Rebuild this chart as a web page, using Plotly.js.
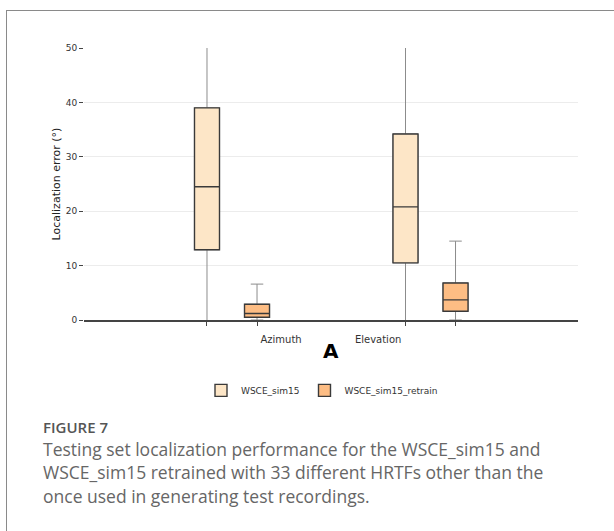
<!DOCTYPE html>
<html>
<head>
<meta charset="utf-8">
<script src="https://cdn.plot.ly/plotly-3.0.1.min.js"></script>
<style>
  html, body { margin: 0; padding: 0; background: #fff; }
  #wrap { position: relative; width: 614px; height: 531px; overflow: hidden; }
  #card { position: absolute; left: 6px; top: 10px; width: 700px; height: 600px;
          border: 1.5px solid #8a8a8a; box-sizing: border-box; }
  #chart { position: absolute; left: 0; top: 0; width: 614px; height: 531px; }
</style>
</head>
<body>
<div id="wrap">
  <div id="card"></div>
  <div id="chart"></div>
</div>
<script>
// ---- data ----
const categories = ["Azimuth", "Elevation"];
const seriesNames = ["WSCE_sim15", "WSCE_sim15_retrain"];

// WSCE_sim15
const sim15_lower  = [0, 0];
const sim15_q1     = [12.9, 10.5];
const sim15_median = [24.5, 20.8];
const sim15_q3     = [39.0, 34.2];
const sim15_upper  = [50, 50];

// WSCE_sim15_retrain
const retrain_lower  = [0, 0];
const retrain_q1     = [0.5, 1.6];
const retrain_median = [1.2, 3.7];
const retrain_q3     = [2.9, 6.8];
const retrain_upper  = [6.6, 14.5];

const yTicks = [0, 10, 20, 30, 40, 50];

const figureLabel = "FIGURE 7";
const captionLines = [
  "Testing set localization performance for the WSCE_sim15 and",
  "WSCE_sim15 retrained with 33 different HRTFs other than the",
  "once used in generating test recordings."
];

// ---- styling ----
const colSim = "#fde6c7";
const colRet = "#fdbd84";
const boxLine = "#3a3a3a";
const whiskLine = "#8c8c8c";
const xIdx = categories.map((c, i) => i);

function whiskerTrace(name, lo, q1, med, q3, hi, fill, grp, ww) {
  return {
    type: "box", name: name, x: xIdx, lowerfence: lo, q1: q1, median: med, q3: q3, upperfence: hi,
    offsetgroup: grp, alignmentgroup: "all", showlegend: false, hoverinfo: "skip",
    fillcolor: fill, line: { color: whiskLine, width: 1 }, whiskerwidth: ww, boxpoints: false
  };
}
function boxTrace(name, q1, med, q3, fill, grp) {
  return {
    type: "box", name: name, x: xIdx, lowerfence: q1, q1: q1, median: med, q3: q3, upperfence: q3,
    offsetgroup: grp, alignmentgroup: "all", showlegend: true,
    fillcolor: fill, line: { color: boxLine, width: 1.4 }, whiskerwidth: 0, boxpoints: false
  };
}

const data = [
  whiskerTrace(seriesNames[0], sim15_lower, sim15_q1, sim15_median, sim15_q3, sim15_upper, colSim, "a", 0),
  whiskerTrace(seriesNames[1], retrain_lower, retrain_q1, retrain_median, retrain_q3, retrain_upper, colRet, "b", 0.5),
  boxTrace(seriesNames[0], sim15_q1, sim15_median, sim15_q3, colSim, "a"),
  boxTrace(seriesNames[1], retrain_q1, retrain_median, retrain_q3, colRet, "b")
];

const boxOff = 0.126;
const tickFont = { family: "DejaVu Sans", size: 9, color: "#333" };

// helpers for pixel -> paper conversion (plot area: x 84..578, y 48..320.5)
const px = v => (v - 84) / 494;
const py = v => (320.5 - v) / 272.5;

const capFont = { family: "Open Sans", size: 17.5, color: "#666" };
const annotations = [
  { text: "<b>A</b>", xref: "paper", yref: "paper", x: px(331), y: py(352),
    xanchor: "center", yanchor: "middle", showarrow: false,
    font: { family: "DejaVu Sans", size: 20, color: "#000" } },
  { text: figureLabel, xref: "paper", yref: "paper", x: px(41), y: py(427.5),
    xanchor: "left", yanchor: "middle", showarrow: false,
    font: { family: "Open Sans", size: 15, color: "#555", weight: 600 } }
];
captionLines.forEach((t, i) => {
  annotations.push({ text: t, xref: "paper", yref: "paper", x: px(41), y: py(450 + i * 23.2),
    xanchor: "left", yanchor: "middle", align: "left", showarrow: false, font: capFont });
});

const layout = {
  width: 614, height: 531,
  margin: { l: 84, r: 36, t: 48, b: 210.5 },
  paper_bgcolor: "rgba(0,0,0,0)",
  plot_bgcolor: "rgba(0,0,0,0)",
  boxmode: "group", boxgap: 0.496, boxgroupgap: 0.5,
  showlegend: true,
  legend: {
    orientation: "h", x: px(322), xanchor: "center", y: py(391), yanchor: "middle",
    font: { family: "DejaVu Sans", size: 9, color: "#333" },
    itemwidth: 30, tracegroupgap: 0
  },
  xaxis: {
    range: [-0.7456, 1.743],
    tickmode: "array", tickvals: [0.247, 0.736], ticktext: categories,
    ticks: "", ticklabelstandoff: 9,
    tickfont: { family: "DejaVu Sans", size: 10, color: "#333" },
    showgrid: false, zeroline: false,
    showline: true, linecolor: "#444", linewidth: 1.5,
    minor: {
      tickmode: "array",
      tickvals: xIdx.flatMap(i => [i - boxOff, i + boxOff]),
      ticks: "outside", ticklen: 4, tickcolor: "#444", tickwidth: 1, showgrid: false
    },
    fixedrange: true
  },
  yaxis: {
    range: [0, 50], tickmode: "array", tickvals: yTicks,
    ticks: "outside", ticklen: 4, tickcolor: "#444", tickwidth: 1,
    tickfont: tickFont,
    showgrid: true, gridcolor: "#ececec", gridwidth: 1.3,
    zeroline: false, showline: false,
    title: { text: "Localization error (°)", font: { family: "DejaVu Sans", size: 11, color: "#222" }, standoff: 2 },
    fixedrange: true
  },
  annotations: annotations
};

Plotly.newPlot("chart", data, layout, { displayModeBar: false, staticPlot: true });
</script>
</body>
</html>
